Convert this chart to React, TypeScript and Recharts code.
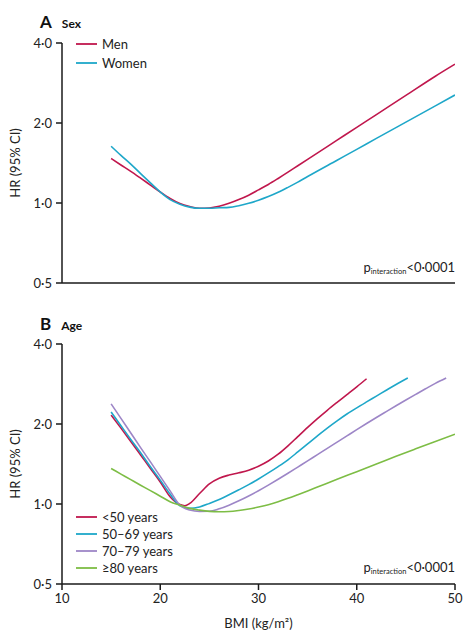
import React from 'react'
import { LineChart, Line, XAxis, YAxis } from 'recharts'

const RED = '#c0174d'
const CYAN = '#1ea7c9'
const PURPLE = '#9d86c7'
const GREEN = '#7dbd45'
const AXIS = '#1a1a1a'
const TEXT = '#222'
const FONT = 'Lato, "Open Sans", sans-serif'

const X_TICKS = [10, 20, 30, 40, 50]
const Y_TICKS = [0.5, 1, 2, 4]

// panel A: sex
const SEX_BMI = [15, 16, 17, 18, 19, 20, 21, 22, 23, 24, 25, 26, 27, 28, 29, 30, 31, 32, 33, 34, 35, 38, 40, 42, 45, 48, 50]
const MEN = [1.47, 1.39, 1.315, 1.24, 1.168, 1.1, 1.04, 0.995, 0.97, 0.955, 0.958, 0.972, 0.997, 1.03, 1.07, 1.12, 1.174, 1.237, 1.306, 1.381, 1.46, 1.724, 1.926, 2.152, 2.54, 3.0, 3.33]
const WOMEN = [1.635, 1.51, 1.4, 1.29, 1.19, 1.1, 1.03, 0.99, 0.965, 0.955, 0.955, 0.96, 0.963, 0.977, 0.997, 1.024, 1.057, 1.097, 1.145, 1.198, 1.258, 1.449, 1.592, 1.75, 2.015, 2.32, 2.55]

// panel B: age
const LT50_BMI = [15, 16, 17, 18, 19, 20, 21, 22, 22.5, 23, 24, 25, 26, 27, 28, 29, 30, 31, 32, 33, 34, 35, 36, 37, 38, 39, 40, 41]
const LT50 = [2.16, 1.93, 1.72, 1.53, 1.36, 1.21, 1.065, 0.995, 0.985, 1.005, 1.095, 1.19, 1.25, 1.285, 1.31, 1.34, 1.387, 1.451, 1.539, 1.655, 1.793, 1.941, 2.095, 2.252, 2.412, 2.579, 2.759, 2.96]

const AGE5069_BMI = [15, 16, 17, 18, 19, 20, 21, 22, 23, 24, 25, 26, 27, 28, 29, 30, 31, 32, 33, 34, 35, 36, 37, 38, 39, 40, 41, 42, 43, 44, 45.2]
const AGE5069 = [2.22, 1.97, 1.75, 1.56, 1.38, 1.23, 1.09, 0.985, 0.963, 0.975, 1.005, 1.04, 1.083, 1.131, 1.183, 1.242, 1.309, 1.383, 1.467, 1.57, 1.683, 1.804, 1.931, 2.056, 2.181, 2.301, 2.422, 2.547, 2.68, 2.817, 2.98]

const AGE7079_BMI = [15, 16, 17, 18, 19, 20, 21, 22, 23, 24, 25, 26, 27, 28, 29, 30, 31, 32, 33, 34, 35, 36, 37, 38, 39, 40, 41, 42, 43, 44, 45, 46, 47, 48, 49.1]
const AGE7079 = [2.38, 2.1, 1.85, 1.63, 1.44, 1.27, 1.12, 0.99, 0.949, 0.938, 0.939, 0.959, 0.99, 1.028, 1.072, 1.122, 1.178, 1.239, 1.305, 1.377, 1.453, 1.534, 1.619, 1.709, 1.804, 1.904, 2.008, 2.116, 2.227, 2.343, 2.462, 2.585, 2.713, 2.844, 2.98]

const GE80_BMI = [15, 16, 17, 18, 19, 20, 21, 22, 23, 24, 25, 26, 27, 28, 29, 30, 31, 32, 33, 34, 35, 36, 38, 40, 42, 44, 46, 48, 50]
const GE80 = [1.36, 1.296, 1.235, 1.177, 1.123, 1.07, 1.02, 0.99, 0.963, 0.948, 0.938, 0.935, 0.937, 0.945, 0.957, 0.974, 0.994, 1.02, 1.05, 1.084, 1.12, 1.158, 1.238, 1.323, 1.414, 1.512, 1.613, 1.719, 1.83]

const pts = (xs: number[], ys: number[]) => xs.map((bmi, i) => ({ bmi, hr: ys[i] }))

const fmtHR = (v: number) => v.toFixed(1).replace('.', '·')

interface Series {
  name: string
  color: string
  data: { bmi: number; hr: number }[]
}

const SEX_SERIES: Series[] = [
  { name: 'Men', color: RED, data: pts(SEX_BMI, MEN) },
  { name: 'Women', color: CYAN, data: pts(SEX_BMI, WOMEN) },
]

const AGE_SERIES: Series[] = [
  { name: '<50 years', color: RED, data: pts(LT50_BMI, LT50) },
  { name: '50–69 years', color: CYAN, data: pts(AGE5069_BMI, AGE5069) },
  { name: '70–79 years', color: PURPLE, data: pts(AGE7079_BMI, AGE7079) },
  { name: '≥80 years', color: GREEN, data: pts(GE80_BMI, GE80) },
]

function Legend({ series, top, step }: { series: Series[]; top: number; step: number }) {
  return (
    <div style={{ position: 'absolute', left: 76, top, fontSize: 13, color: TEXT }}>
      {series.map((s) => (
        <div key={s.name} style={{ display: 'flex', alignItems: 'center', height: step, whiteSpace: 'nowrap' }}>
          <svg width={21} height={4} style={{ marginRight: 5 }}>
            <line x1={0} y1={2} x2={21} y2={2} stroke={s.color} strokeWidth={1.8} />
          </svg>
          <span>{s.name}</span>
        </div>
      ))}
    </div>
  )
}

function PValue({ top }: { top: number }) {
  return (
    <div style={{ position: 'absolute', right: 19, top, fontSize: 13, color: TEXT, lineHeight: '16px', whiteSpace: 'nowrap' }}>
      p<span style={{ fontSize: 7.5, position: 'relative', top: 2 }}>interaction</span>&lt;0·0001
    </div>
  )
}

function Title({ letter, label, top }: { letter: string; label: string; top: number }) {
  return (
    <div style={{ position: 'absolute', left: 40, top, color: '#111', whiteSpace: 'nowrap' }}>
      <span style={{ fontSize: 17, fontWeight: 700 }}>{letter}</span>
      <span style={{ fontSize: 12, fontWeight: 700, marginLeft: 10 }}>{label}</span>
    </div>
  )
}

function Panel({ series, height, showX }: { series: Series[]; height: number; showX: boolean }) {
  const xHeight = showX ? 52 : 17
  return (
    <LineChart width={474} height={height} margin={{ top: height - xHeight - 240, right: 19, left: 0, bottom: 0 }}>
      <XAxis
        dataKey="bmi"
        type="number"
        domain={[10, 50]}
        ticks={X_TICKS}
        height={xHeight}
        tick={showX ? { fontSize: 13, fill: TEXT, fontFamily: FONT } : false}
        tickSize={6}
        tickMargin={4}
        axisLine={{ stroke: AXIS, strokeWidth: 1.5 }}
        tickLine={{ stroke: AXIS, strokeWidth: 1.5 }}
        label={showX ? { value: 'BMI (kg/m²)', position: 'insideBottom', offset: 8, fontSize: 13, fill: TEXT, fontFamily: FONT } : undefined}
        allowDataOverflow
      />
      <YAxis
        dataKey="hr"
        scale="log"
        domain={[0.5, 4]}
        ticks={Y_TICKS}
        tickFormatter={fmtHR}
        width={62}
        tick={{ fontSize: 13, fill: TEXT, fontFamily: FONT }}
        tickSize={6}
        tickMargin={4}
        axisLine={{ stroke: AXIS, strokeWidth: 1.5 }}
        tickLine={{ stroke: AXIS, strokeWidth: 1.5 }}
        label={{ value: 'HR (95% CI)', angle: -90, position: 'insideLeft', offset: 15, fontSize: 13, fill: TEXT, fontFamily: FONT, style: { textAnchor: 'middle' } }}
        allowDataOverflow
      />
      {series.map((s) => (
        <Line
          key={s.name}
          data={s.data}
          dataKey="hr"
          name={s.name}
          type="monotone"
          stroke={s.color}
          strokeWidth={1.6}
          dot={false}
          activeDot={false}
          isAnimationActive={false}
        />
      ))}
    </LineChart>
  )
}

export default function App() {
  return (
    <div style={{ position: 'absolute', left: 0, top: 0, width: 474, height: 636, background: '#fff', fontFamily: FONT }}>
      <div style={{ position: 'absolute', left: 0, top: 0 }}>
        <Panel series={SEX_SERIES} height={300} showX={false} />
      </div>
      <Title letter="A" label="Sex" top={11} />
      <Legend series={SEX_SERIES} top={34} step={19} />
      <PValue top={259} />

      <div style={{ position: 'absolute', left: 0, top: 300 }}>
        <Panel series={AGE_SERIES} height={336} showX />
      </div>
      <Title letter="B" label="Age" top={313} />
      <Legend series={AGE_SERIES} top={508} step={17} />
      <PValue top={559} />
    </div>
  )
}
